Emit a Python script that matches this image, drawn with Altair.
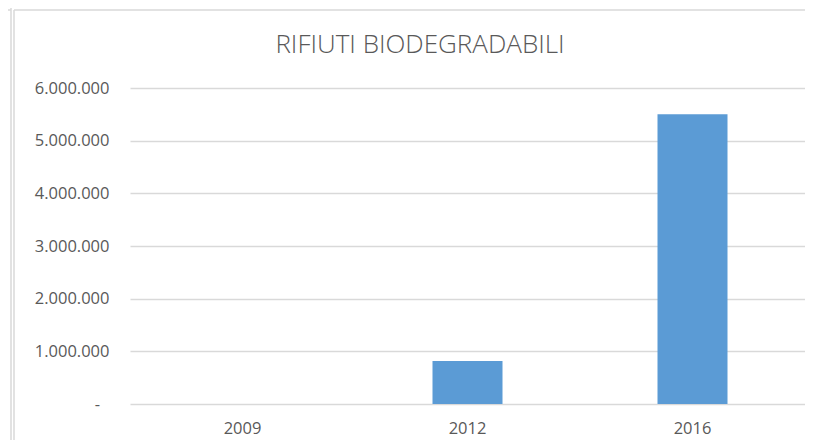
import altair as alt
import pandas as pd

years = ["2009", "2012", "2016"]
values = [0, 815000, 5500000]
y_ticks = [0, 1000000, 2000000, 3000000, 4000000, 5000000, 6000000]
title_text = "RIFIUTI BIODEGRADABILI"

df = pd.DataFrame({"anno": years, "valore": values})

FONT = "Open Sans"
GRAY = "#595959"
GRID = "#d9d9d9"

bars = alt.Chart(df).mark_bar(size=70, color="#5b9bd5").encode(
    x=alt.X(
        "anno:N",
        sort=years,
        scale=alt.Scale(paddingInner=0, paddingOuter=0),
        axis=alt.Axis(
            title=None, labelAngle=0, ticks=False, domain=False,
            labelFont=FONT, labelFontSize=16.5, labelColor=GRAY, labelPadding=16,
            grid=False,
        ),
    ),
    y=alt.Y(
        "valore:Q",
        scale=alt.Scale(domain=[0, 6000000], nice=False),
        axis=alt.Axis(
            title=None, values=y_ticks, ticks=False, domain=False,
            labelFont=FONT, labelFontSize=16.5, labelColor=GRAY, labelPadding=21,
            gridColor=GRID, gridWidth=1.3,
            labelExpr="datum.value == 0 ? '-\u2007\u200b' : replace(replace(format(datum.value, ','), ',', '.'), ',', '.')",
        ),
    ),
)

frame_src = alt.Data(values=[{"k": 1}])
title_mark = alt.Chart(frame_src).mark_text(
    text=title_text, font=FONT, fontSize=26, fontWeight=300, color=GRAY,
    align="center", baseline="alphabetic",
).encode(x=alt.value(290), y=alt.value(-35))

top_line = alt.Chart(frame_src).mark_rule(color=GRID, strokeWidth=1.5).encode(
    x=alt.value(-116), x2=alt.value(675), y=alt.value(-78)
)
left_line = alt.Chart(frame_src).mark_rule(color=GRID, strokeWidth=1.5).encode(
    x=alt.value(-116), y=alt.value(-78), y2=alt.value(352)
)
left_line2 = alt.Chart(frame_src).mark_rule(color=GRID, strokeWidth=1.5).encode(
    x=alt.value(-119), y=alt.value(-80), y2=alt.value(352)
)
corner_line = alt.Chart(frame_src).mark_rule(color=GRID, strokeWidth=1.5).encode(
    x=alt.value(-122), x2=alt.value(-119), y=alt.value(-78)
)

chart = alt.layer(bars, title_mark, top_line, left_line, left_line2, corner_line).properties(
    width=675,
    height=316,
    background="white",
    autosize=alt.AutoSizeParams(type="none"),
    padding={"left": 122, "top": 80, "right": 0, "bottom": 36},
).configure_view(strokeWidth=0, stroke=None)

chart.save("out.html", embed_options={"renderer": "svg", "actions": False})
